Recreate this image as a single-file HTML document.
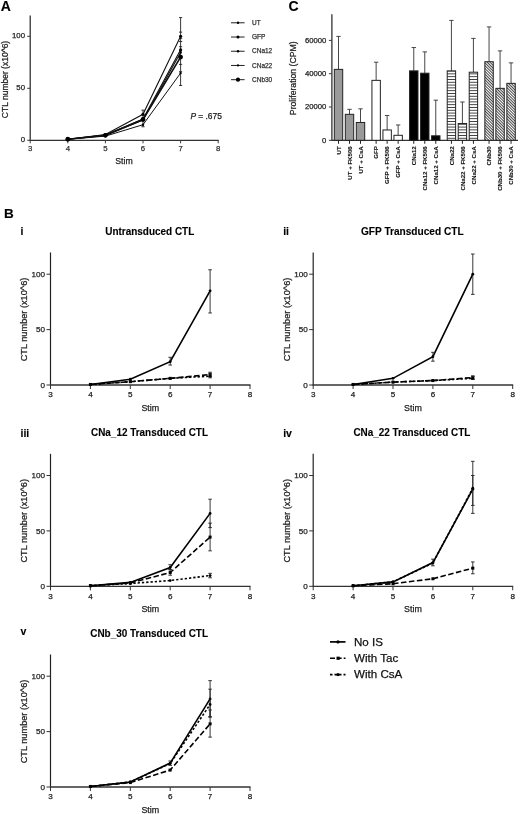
<!DOCTYPE html>
<html><head><meta charset="utf-8"><title>Figure</title>
<style>
html,body{margin:0;padding:0;background:#fff;}
body{width:520px;height:814px;overflow:hidden;}
svg{display:block;font-family:"Liberation Sans", sans-serif;filter:blur(0.35px);}
</style></head>
<body>
<svg width="520" height="814" viewBox="0 0 520 814">
<rect width="520" height="814" fill="#fff"/>
<text x="0.7" y="10.9" font-size="14" text-anchor="start" font-weight="bold" fill="#000" stroke="#000" stroke-width="0.12">A</text>
<text x="288.5" y="10.9" font-size="14" text-anchor="start" font-weight="bold" fill="#000" stroke="#000" stroke-width="0.12">C</text>
<text x="3.9" y="218.1" font-size="13.5" text-anchor="start" font-weight="bold" fill="#000" stroke="#000" stroke-width="0.12">B</text>
<line x1="30.2" y1="15.5" x2="30.2" y2="140.8" stroke="#222" stroke-width="1.2"/>
<line x1="29.7" y1="140.3" x2="218.7" y2="140.3" stroke="#333" stroke-width="1.2"/>
<line x1="27.2" y1="140.3" x2="30.2" y2="140.3" stroke="#3a3a3a" stroke-width="1"/>
<text x="25" y="142" font-size="7.8" text-anchor="end" fill="#222" stroke="#222" stroke-width="0.25">0</text>
<line x1="27.2" y1="88.3" x2="30.2" y2="88.3" stroke="#3a3a3a" stroke-width="1"/>
<text x="25" y="90" font-size="7.8" text-anchor="end" fill="#222" stroke="#222" stroke-width="0.25">50</text>
<line x1="27.2" y1="36.3" x2="30.2" y2="36.3" stroke="#3a3a3a" stroke-width="1"/>
<text x="25" y="38" font-size="7.8" text-anchor="end" fill="#222" stroke="#222" stroke-width="0.25">100</text>
<line x1="30.2" y1="140.3" x2="30.2" y2="143.3" stroke="#3a3a3a" stroke-width="1"/>
<text x="30.2" y="151.3" font-size="7.8" text-anchor="middle" fill="#333" stroke="#333" stroke-width="0.25">3</text>
<line x1="67.8" y1="140.3" x2="67.8" y2="143.3" stroke="#3a3a3a" stroke-width="1"/>
<text x="67.8" y="151.3" font-size="7.8" text-anchor="middle" fill="#333" stroke="#333" stroke-width="0.25">4</text>
<line x1="105.4" y1="140.3" x2="105.4" y2="143.3" stroke="#3a3a3a" stroke-width="1"/>
<text x="105.4" y="151.3" font-size="7.8" text-anchor="middle" fill="#333" stroke="#333" stroke-width="0.25">5</text>
<line x1="143" y1="140.3" x2="143" y2="143.3" stroke="#3a3a3a" stroke-width="1"/>
<text x="143" y="151.3" font-size="7.8" text-anchor="middle" fill="#333" stroke="#333" stroke-width="0.25">6</text>
<line x1="180.6" y1="140.3" x2="180.6" y2="143.3" stroke="#3a3a3a" stroke-width="1"/>
<text x="180.6" y="151.3" font-size="7.8" text-anchor="middle" fill="#333" stroke="#333" stroke-width="0.25">7</text>
<line x1="218.2" y1="140.3" x2="218.2" y2="143.3" stroke="#3a3a3a" stroke-width="1"/>
<text x="218.2" y="151.3" font-size="7.8" text-anchor="middle" fill="#333" stroke="#333" stroke-width="0.25">8</text>
<text x="124" y="164.2" font-size="8.7" text-anchor="middle" fill="#222" stroke="#222" stroke-width="0.25">Stim</text>
<text x="7.8" y="79.5" font-size="8.5" text-anchor="middle" fill="#222" stroke="#222" stroke-width="0.25" transform="rotate(-90 7.8 79.5)">CTL number (x10^6)</text>
<line x1="180.6" y1="17.58" x2="180.6" y2="85.49" stroke="#222" stroke-width="0.9"/>
<line x1="179" y1="17.58" x2="182.2" y2="17.58" stroke="#222" stroke-width="0.9"/>
<line x1="179" y1="32.14" x2="182.2" y2="32.14" stroke="#222" stroke-width="0.9"/>
<line x1="179" y1="38.38" x2="182.2" y2="38.38" stroke="#222" stroke-width="0.9"/>
<line x1="179" y1="41.5" x2="182.2" y2="41.5" stroke="#222" stroke-width="0.9"/>
<line x1="179" y1="46.7" x2="182.2" y2="46.7" stroke="#222" stroke-width="0.9"/>
<line x1="179" y1="64.38" x2="182.2" y2="64.38" stroke="#222" stroke-width="0.9"/>
<line x1="179" y1="71.66" x2="182.2" y2="71.66" stroke="#222" stroke-width="0.9"/>
<line x1="179" y1="85.49" x2="182.2" y2="85.49" stroke="#222" stroke-width="0.9"/>
<line x1="143" y1="110.14" x2="143" y2="126.78" stroke="#222" stroke-width="0.9"/>
<line x1="141.4" y1="110.14" x2="144.6" y2="110.14" stroke="#222" stroke-width="0.9"/>
<line x1="141.4" y1="126.78" x2="144.6" y2="126.78" stroke="#222" stroke-width="0.9"/>
<polyline points="67.80,139.26 105.40,134.48 143.00,114.30 180.60,36.30" fill="none" stroke="#111" stroke-width="1.1"/>
<circle cx="67.80" cy="139.26" r="1.6" fill="#000"/>
<circle cx="105.40" cy="134.48" r="1.6" fill="#000"/>
<circle cx="143.00" cy="114.30" r="1.6" fill="#000"/>
<circle cx="180.60" cy="36.30" r="1.6" fill="#000"/>
<polyline points="67.80,139.26 105.40,135.10 143.00,118.98 180.60,49.82" fill="none" stroke="#111" stroke-width="1.1"/>
<circle cx="67.80" cy="139.26" r="1.6" fill="#000"/>
<circle cx="105.40" cy="135.10" r="1.6" fill="#000"/>
<circle cx="143.00" cy="118.98" r="1.6" fill="#000"/>
<circle cx="180.60" cy="49.82" r="1.6" fill="#000"/>
<polyline points="67.80,139.26 105.40,135.52 143.00,120.02 180.60,52.42" fill="none" stroke="#111" stroke-width="1.1"/>
<circle cx="67.80" cy="139.26" r="1.3" fill="#000"/>
<circle cx="105.40" cy="135.52" r="1.3" fill="#000"/>
<circle cx="143.00" cy="120.02" r="1.3" fill="#000"/>
<circle cx="180.60" cy="52.42" r="1.3" fill="#000"/>
<polyline points="67.80,139.26 105.40,136.14 143.00,124.70 180.60,73.12" fill="none" stroke="#111" stroke-width="1.0"/>
<circle cx="67.80" cy="139.26" r="1.2" fill="#000"/>
<circle cx="105.40" cy="136.14" r="1.2" fill="#000"/>
<circle cx="143.00" cy="124.70" r="1.2" fill="#000"/>
<circle cx="180.60" cy="73.12" r="1.2" fill="#000"/>
<polyline points="67.80,139.26 105.40,135.31 143.00,119.50 180.60,57.10" fill="none" stroke="#111" stroke-width="1.6"/>
<circle cx="67.80" cy="139.26" r="2.4" fill="#000"/>
<circle cx="105.40" cy="135.31" r="2.4" fill="#000"/>
<circle cx="143.00" cy="119.50" r="2.4" fill="#000"/>
<circle cx="180.60" cy="57.10" r="2.4" fill="#000"/>
<text x="190.4" y="118.5" font-size="8.4" text-anchor="start" fill="#222" stroke="#222" stroke-width="0.25"><tspan font-style="italic">P</tspan> = .675</text>
<line x1="231" y1="22.8" x2="244.6" y2="22.8" stroke="#222" stroke-width="1.0"/>
<circle cx="238" cy="22.80" r="1.2" fill="#000"/>
<text x="252" y="25" font-size="6.5" text-anchor="start" fill="#333" stroke="#333" stroke-width="0.25">UT</text>
<line x1="231" y1="37.02" x2="244.6" y2="37.02" stroke="#222" stroke-width="1.0"/>
<circle cx="238" cy="37.02" r="1.5" fill="#000"/>
<text x="252" y="39.22" font-size="6.5" text-anchor="start" fill="#333" stroke="#333" stroke-width="0.25">GFP</text>
<line x1="231" y1="51.24" x2="244.6" y2="51.24" stroke="#222" stroke-width="1.0"/>
<circle cx="238" cy="51.24" r="1.2" fill="#000"/>
<text x="252" y="53.44" font-size="6.5" text-anchor="start" fill="#333" stroke="#333" stroke-width="0.25">CNa12</text>
<line x1="231" y1="65.46" x2="244.6" y2="65.46" stroke="#222" stroke-width="1.0"/>
<circle cx="238" cy="65.46" r="1.1" fill="#000"/>
<text x="252" y="67.66" font-size="6.5" text-anchor="start" fill="#333" stroke="#333" stroke-width="0.25">CNa22</text>
<line x1="231" y1="79.68" x2="244.6" y2="79.68" stroke="#222" stroke-width="1.0"/>
<circle cx="238" cy="79.68" r="2.1" fill="#000"/>
<text x="252" y="81.88" font-size="6.5" text-anchor="start" fill="#333" stroke="#333" stroke-width="0.25">CNb30</text>
<line x1="331.9" y1="14.3" x2="331.9" y2="140.8" stroke="#222" stroke-width="1.2"/>
<line x1="331.4" y1="140.3" x2="518" y2="140.3" stroke="#333" stroke-width="1.2"/>
<line x1="328.9" y1="140.3" x2="331.9" y2="140.3" stroke="#3a3a3a" stroke-width="1"/>
<text x="326.3" y="142.5" font-size="7.7" text-anchor="end" fill="#222" stroke="#222" stroke-width="0.25">0</text>
<line x1="328.9" y1="107" x2="331.9" y2="107" stroke="#3a3a3a" stroke-width="1"/>
<text x="326.3" y="109.2" font-size="7.7" text-anchor="end" fill="#222" stroke="#222" stroke-width="0.25">20000</text>
<line x1="328.9" y1="73.7" x2="331.9" y2="73.7" stroke="#3a3a3a" stroke-width="1"/>
<text x="326.3" y="75.9" font-size="7.7" text-anchor="end" fill="#222" stroke="#222" stroke-width="0.25">40000</text>
<line x1="328.9" y1="40.4" x2="331.9" y2="40.4" stroke="#3a3a3a" stroke-width="1"/>
<text x="326.3" y="42.6" font-size="7.7" text-anchor="end" fill="#222" stroke="#222" stroke-width="0.25">60000</text>
<text x="296.2" y="78.2" font-size="8.7" text-anchor="middle" fill="#222" stroke="#222" stroke-width="0.25" transform="rotate(-90 296.2 78.2)">Proliferation (CPM)</text>
<defs>
<pattern id="hs" patternUnits="userSpaceOnUse" width="10" height="2.8" y="0.6">
<rect width="10" height="2.8" fill="#fff"/><rect y="0" width="10" height="0.9" fill="#333"/></pattern>
<pattern id="dg" patternUnits="userSpaceOnUse" width="2.0" height="3" patternTransform="rotate(-45)">
<rect width="2.0" height="3" fill="#fff"/><rect width="0.9" height="3" fill="#333"/></pattern>
</defs>
<line x1="338.5" y1="36.4" x2="338.5" y2="69.37" stroke="#333" stroke-width="0.9"/>
<line x1="336.3" y1="36.4" x2="340.7" y2="36.4" stroke="#333" stroke-width="0.9"/>
<rect x="334.30" y="69.37" width="8.4" height="70.93" fill="#9a9a9a" stroke="#222" stroke-width="1"/>
<line x1="338.5" y1="140.3" x2="338.5" y2="143.8" stroke="#222" stroke-width="1"/>
<text x="340.6" y="146.3" font-size="6.1" text-anchor="end" font-weight="bold" fill="#111" stroke="#111" stroke-width="0.12" transform="rotate(-90 340.6 146.3)">UT</text>
<line x1="349.5" y1="109.33" x2="349.5" y2="114.33" stroke="#333" stroke-width="0.9"/>
<line x1="347.3" y1="109.33" x2="351.7" y2="109.33" stroke="#333" stroke-width="0.9"/>
<rect x="345.30" y="114.33" width="8.4" height="25.97" fill="#9a9a9a" stroke="#222" stroke-width="1"/>
<line x1="349.5" y1="140.3" x2="349.5" y2="143.8" stroke="#222" stroke-width="1"/>
<text x="351.6" y="146.3" font-size="6.1" text-anchor="end" font-weight="bold" fill="#111" stroke="#111" stroke-width="0.12" transform="rotate(-90 351.6 146.3)">UT + FK506</text>
<line x1="360.5" y1="108.83" x2="360.5" y2="122.48" stroke="#333" stroke-width="0.9"/>
<line x1="358.3" y1="108.83" x2="362.7" y2="108.83" stroke="#333" stroke-width="0.9"/>
<rect x="356.30" y="122.48" width="8.4" height="17.82" fill="#9a9a9a" stroke="#222" stroke-width="1"/>
<line x1="360.5" y1="140.3" x2="360.5" y2="143.8" stroke="#222" stroke-width="1"/>
<text x="362.6" y="146.3" font-size="6.1" text-anchor="end" font-weight="bold" fill="#111" stroke="#111" stroke-width="0.12" transform="rotate(-90 362.6 146.3)">UT + CsA</text>
<line x1="376.14" y1="62.21" x2="376.14" y2="80.36" stroke="#333" stroke-width="0.9"/>
<line x1="373.94" y1="62.21" x2="378.34" y2="62.21" stroke="#333" stroke-width="0.9"/>
<rect x="371.94" y="80.36" width="8.4" height="59.94" fill="#fff" stroke="#222" stroke-width="1"/>
<line x1="376.14" y1="140.3" x2="376.14" y2="143.8" stroke="#222" stroke-width="1"/>
<text x="378.24" y="146.3" font-size="6.1" text-anchor="end" font-weight="bold" fill="#111" stroke="#111" stroke-width="0.12" transform="rotate(-90 378.24 146.3)">GFP</text>
<line x1="387.14" y1="115.49" x2="387.14" y2="129.98" stroke="#333" stroke-width="0.9"/>
<line x1="384.94" y1="115.49" x2="389.34" y2="115.49" stroke="#333" stroke-width="0.9"/>
<rect x="382.94" y="129.98" width="8.4" height="10.32" fill="#fff" stroke="#222" stroke-width="1"/>
<line x1="387.14" y1="140.3" x2="387.14" y2="143.8" stroke="#222" stroke-width="1"/>
<text x="389.24" y="146.3" font-size="6.1" text-anchor="end" font-weight="bold" fill="#111" stroke="#111" stroke-width="0.12" transform="rotate(-90 389.24 146.3)">GFP + FK506</text>
<line x1="398.14" y1="124.98" x2="398.14" y2="135.31" stroke="#333" stroke-width="0.9"/>
<line x1="395.94" y1="124.98" x2="400.34" y2="124.98" stroke="#333" stroke-width="0.9"/>
<rect x="393.94" y="135.31" width="8.4" height="5.00" fill="#fff" stroke="#222" stroke-width="1"/>
<line x1="398.14" y1="140.3" x2="398.14" y2="143.8" stroke="#222" stroke-width="1"/>
<text x="400.24" y="146.3" font-size="6.1" text-anchor="end" font-weight="bold" fill="#111" stroke="#111" stroke-width="0.12" transform="rotate(-90 400.24 146.3)">GFP + CsA</text>
<line x1="413.78" y1="47.56" x2="413.78" y2="70.87" stroke="#333" stroke-width="0.9"/>
<line x1="411.58" y1="47.56" x2="415.98" y2="47.56" stroke="#333" stroke-width="0.9"/>
<rect x="409.58" y="70.87" width="8.4" height="69.43" fill="#000" stroke="#222" stroke-width="1"/>
<line x1="413.78" y1="140.3" x2="413.78" y2="143.8" stroke="#222" stroke-width="1"/>
<text x="415.88" y="146.3" font-size="6.1" text-anchor="end" font-weight="bold" fill="#111" stroke="#111" stroke-width="0.12" transform="rotate(-90 415.88 146.3)">CNa12</text>
<line x1="424.78" y1="51.89" x2="424.78" y2="73.2" stroke="#333" stroke-width="0.9"/>
<line x1="422.58" y1="51.89" x2="426.98" y2="51.89" stroke="#333" stroke-width="0.9"/>
<rect x="420.58" y="73.20" width="8.4" height="67.10" fill="#000" stroke="#222" stroke-width="1"/>
<line x1="424.78" y1="140.3" x2="424.78" y2="143.8" stroke="#222" stroke-width="1"/>
<text x="426.88" y="146.3" font-size="6.1" text-anchor="end" font-weight="bold" fill="#111" stroke="#111" stroke-width="0.12" transform="rotate(-90 426.88 146.3)">CNa12 + FK506</text>
<line x1="435.78" y1="100.17" x2="435.78" y2="135.8" stroke="#333" stroke-width="0.9"/>
<line x1="433.58" y1="100.17" x2="437.98" y2="100.17" stroke="#333" stroke-width="0.9"/>
<rect x="431.58" y="135.80" width="8.4" height="4.50" fill="#000" stroke="#222" stroke-width="1"/>
<line x1="435.78" y1="140.3" x2="435.78" y2="143.8" stroke="#222" stroke-width="1"/>
<text x="437.88" y="146.3" font-size="6.1" text-anchor="end" font-weight="bold" fill="#111" stroke="#111" stroke-width="0.12" transform="rotate(-90 437.88 146.3)">CNa12 + CsA</text>
<line x1="451.42" y1="20.42" x2="451.42" y2="70.87" stroke="#333" stroke-width="0.9"/>
<line x1="449.22" y1="20.42" x2="453.62" y2="20.42" stroke="#333" stroke-width="0.9"/>
<rect x="447.22" y="70.87" width="8.4" height="69.43" fill="url(#hs)" stroke="#222" stroke-width="1"/>
<line x1="451.42" y1="140.3" x2="451.42" y2="143.8" stroke="#222" stroke-width="1"/>
<text x="453.52" y="146.3" font-size="6.1" text-anchor="end" font-weight="bold" fill="#111" stroke="#111" stroke-width="0.12" transform="rotate(-90 453.52 146.3)">CNa22</text>
<line x1="462.42" y1="102.01" x2="462.42" y2="123.48" stroke="#333" stroke-width="0.9"/>
<line x1="460.22" y1="102.01" x2="464.62" y2="102.01" stroke="#333" stroke-width="0.9"/>
<rect x="458.22" y="123.48" width="8.4" height="16.82" fill="url(#hs)" stroke="#222" stroke-width="1"/>
<line x1="462.42" y1="140.3" x2="462.42" y2="143.8" stroke="#222" stroke-width="1"/>
<text x="464.52" y="146.3" font-size="6.1" text-anchor="end" font-weight="bold" fill="#111" stroke="#111" stroke-width="0.12" transform="rotate(-90 464.52 146.3)">CNa22 + FK506</text>
<line x1="473.42" y1="38.4" x2="473.42" y2="72.2" stroke="#333" stroke-width="0.9"/>
<line x1="471.22" y1="38.4" x2="475.62" y2="38.4" stroke="#333" stroke-width="0.9"/>
<rect x="469.22" y="72.20" width="8.4" height="68.10" fill="url(#hs)" stroke="#222" stroke-width="1"/>
<line x1="473.42" y1="140.3" x2="473.42" y2="143.8" stroke="#222" stroke-width="1"/>
<text x="475.52" y="146.3" font-size="6.1" text-anchor="end" font-weight="bold" fill="#111" stroke="#111" stroke-width="0.12" transform="rotate(-90 475.52 146.3)">CNa22 + CsA</text>
<line x1="489.06" y1="26.91" x2="489.06" y2="61.71" stroke="#333" stroke-width="0.9"/>
<line x1="486.86" y1="26.91" x2="491.26" y2="26.91" stroke="#333" stroke-width="0.9"/>
<rect x="484.86" y="61.71" width="8.4" height="78.59" fill="url(#dg)" stroke="#222" stroke-width="1"/>
<line x1="489.06" y1="140.3" x2="489.06" y2="143.8" stroke="#222" stroke-width="1"/>
<text x="491.16" y="146.3" font-size="6.1" text-anchor="end" font-weight="bold" fill="#111" stroke="#111" stroke-width="0.12" transform="rotate(-90 491.16 146.3)">CNb30</text>
<line x1="500.06" y1="50.89" x2="500.06" y2="88.35" stroke="#333" stroke-width="0.9"/>
<line x1="497.86" y1="50.89" x2="502.26" y2="50.89" stroke="#333" stroke-width="0.9"/>
<rect x="495.86" y="88.35" width="8.4" height="51.95" fill="url(#dg)" stroke="#222" stroke-width="1"/>
<line x1="500.06" y1="140.3" x2="500.06" y2="143.8" stroke="#222" stroke-width="1"/>
<text x="502.16" y="146.3" font-size="6.1" text-anchor="end" font-weight="bold" fill="#111" stroke="#111" stroke-width="0.12" transform="rotate(-90 502.16 146.3)">CNb30 + FK506</text>
<line x1="511.06" y1="62.88" x2="511.06" y2="83.36" stroke="#333" stroke-width="0.9"/>
<line x1="508.86" y1="62.88" x2="513.26" y2="62.88" stroke="#333" stroke-width="0.9"/>
<rect x="506.86" y="83.36" width="8.4" height="56.94" fill="url(#dg)" stroke="#222" stroke-width="1"/>
<line x1="511.06" y1="140.3" x2="511.06" y2="143.8" stroke="#222" stroke-width="1"/>
<text x="513.16" y="146.3" font-size="6.1" text-anchor="end" font-weight="bold" fill="#111" stroke="#111" stroke-width="0.12" transform="rotate(-90 513.16 146.3)">CNb30 + CsA</text>
<line x1="50.5" y1="252.5" x2="50.5" y2="385.5" stroke="#222" stroke-width="1.2"/>
<line x1="50" y1="385" x2="250.5" y2="385" stroke="#333" stroke-width="1.3"/>
<line x1="46.5" y1="385" x2="50.5" y2="385" stroke="#333" stroke-width="1"/>
<text x="45.1" y="387.8" font-size="8.1" text-anchor="end" fill="#222" stroke="#222" stroke-width="0.25">0</text>
<line x1="46.5" y1="329.6" x2="50.5" y2="329.6" stroke="#333" stroke-width="1"/>
<text x="45.1" y="332.4" font-size="8.1" text-anchor="end" fill="#222" stroke="#222" stroke-width="0.25">50</text>
<line x1="46.5" y1="274.2" x2="50.5" y2="274.2" stroke="#333" stroke-width="1"/>
<text x="45.1" y="277" font-size="8.1" text-anchor="end" fill="#222" stroke="#222" stroke-width="0.25">100</text>
<line x1="50.5" y1="385" x2="50.5" y2="389" stroke="#333" stroke-width="1"/>
<text x="50.5" y="397.2" font-size="8.1" text-anchor="middle" fill="#222" stroke="#222" stroke-width="0.25">3</text>
<line x1="90.4" y1="385" x2="90.4" y2="389" stroke="#333" stroke-width="1"/>
<text x="90.4" y="397.2" font-size="8.1" text-anchor="middle" fill="#222" stroke="#222" stroke-width="0.25">4</text>
<line x1="130.3" y1="385" x2="130.3" y2="389" stroke="#333" stroke-width="1"/>
<text x="130.3" y="397.2" font-size="8.1" text-anchor="middle" fill="#222" stroke="#222" stroke-width="0.25">5</text>
<line x1="170.2" y1="385" x2="170.2" y2="389" stroke="#333" stroke-width="1"/>
<text x="170.2" y="397.2" font-size="8.1" text-anchor="middle" fill="#222" stroke="#222" stroke-width="0.25">6</text>
<line x1="210.1" y1="385" x2="210.1" y2="389" stroke="#333" stroke-width="1"/>
<text x="210.1" y="397.2" font-size="8.1" text-anchor="middle" fill="#222" stroke="#222" stroke-width="0.25">7</text>
<line x1="250" y1="385" x2="250" y2="389" stroke="#333" stroke-width="1"/>
<text x="250" y="397.2" font-size="8.1" text-anchor="middle" fill="#222" stroke="#222" stroke-width="0.25">8</text>
<text x="150.25" y="411" font-size="8.9" text-anchor="middle" fill="#222" stroke="#222" stroke-width="0.25">Stim</text>
<text x="27.2" y="319.5" font-size="9.2" text-anchor="middle" fill="#222" stroke="#222" stroke-width="0.25" transform="rotate(-90 27.2 319.5)">CTL number (x10^6)</text>
<text x="20.5" y="235" font-size="10.5" text-anchor="start" font-weight="bold" fill="#000" stroke="#000" stroke-width="0.12">i</text>
<text x="149.75" y="234.7" font-size="10.2" text-anchor="middle" font-weight="bold" fill="#000" stroke="#000" stroke-width="0.12" textLength="89.0" lengthAdjust="spacingAndGlyphs">Untransduced CTL</text>
<polyline points="90.40,384.45 130.30,379.24 170.20,361.73 210.10,290.82" fill="none" stroke="#000" stroke-width="1.6"/>
<line x1="170.2" y1="357.3" x2="170.2" y2="365.06" stroke="#222" stroke-width="0.9"/>
<line x1="168.4" y1="357.3" x2="172" y2="357.3" stroke="#222" stroke-width="0.9"/>
<line x1="168.4" y1="365.06" x2="172" y2="365.06" stroke="#222" stroke-width="0.9"/>
<line x1="210.1" y1="269.77" x2="210.1" y2="312.98" stroke="#222" stroke-width="0.9"/>
<line x1="208.3" y1="269.77" x2="211.9" y2="269.77" stroke="#222" stroke-width="0.9"/>
<line x1="208.3" y1="312.98" x2="211.9" y2="312.98" stroke="#222" stroke-width="0.9"/>
<circle cx="90.40" cy="384.45" r="1.4" fill="#000"/>
<circle cx="130.30" cy="379.24" r="1.4" fill="#000"/>
<circle cx="170.20" cy="361.73" r="1.4" fill="#000"/>
<circle cx="210.10" cy="290.82" r="1.4" fill="#000"/>
<polyline points="90.40,384.45 130.30,381.68 170.20,378.35 210.10,374.58" fill="none" stroke="#000" stroke-width="1.6" stroke-dasharray="5.5 2.5"/>
<line x1="210.1" y1="372.26" x2="210.1" y2="376.69" stroke="#222" stroke-width="0.9"/>
<line x1="208.3" y1="372.26" x2="211.9" y2="372.26" stroke="#222" stroke-width="0.9"/>
<line x1="208.3" y1="376.69" x2="211.9" y2="376.69" stroke="#222" stroke-width="0.9"/>
<rect x="88.90" y="382.95" width="3" height="3" fill="#000"/>
<rect x="128.80" y="380.18" width="3" height="3" fill="#000"/>
<rect x="168.70" y="376.85" width="3" height="3" fill="#000"/>
<rect x="208.60" y="373.08" width="3" height="3" fill="#000"/>
<polyline points="90.40,384.45 130.30,381.68 170.20,378.35 210.10,376.14" fill="none" stroke="#000" stroke-width="1.6" stroke-dasharray="2.3 2"/>
<line x1="210.1" y1="373.92" x2="210.1" y2="377.8" stroke="#222" stroke-width="0.9"/>
<line x1="208.3" y1="373.92" x2="211.9" y2="373.92" stroke="#222" stroke-width="0.9"/>
<line x1="208.3" y1="377.8" x2="211.9" y2="377.8" stroke="#222" stroke-width="0.9"/>
<circle cx="90.40" cy="384.45" r="1.4" fill="#000"/>
<circle cx="130.30" cy="381.68" r="1.4" fill="#000"/>
<circle cx="170.20" cy="378.35" r="1.4" fill="#000"/>
<circle cx="210.10" cy="376.14" r="1.4" fill="#000"/>
<line x1="313.2" y1="252.5" x2="313.2" y2="385.5" stroke="#222" stroke-width="1.2"/>
<line x1="312.7" y1="385" x2="513.2" y2="385" stroke="#333" stroke-width="1.3"/>
<line x1="309.2" y1="385" x2="313.2" y2="385" stroke="#333" stroke-width="1"/>
<text x="307.8" y="387.8" font-size="8.1" text-anchor="end" fill="#222" stroke="#222" stroke-width="0.25">0</text>
<line x1="309.2" y1="329.6" x2="313.2" y2="329.6" stroke="#333" stroke-width="1"/>
<text x="307.8" y="332.4" font-size="8.1" text-anchor="end" fill="#222" stroke="#222" stroke-width="0.25">50</text>
<line x1="309.2" y1="274.2" x2="313.2" y2="274.2" stroke="#333" stroke-width="1"/>
<text x="307.8" y="277" font-size="8.1" text-anchor="end" fill="#222" stroke="#222" stroke-width="0.25">100</text>
<line x1="313.2" y1="385" x2="313.2" y2="389" stroke="#333" stroke-width="1"/>
<text x="313.2" y="397.2" font-size="8.1" text-anchor="middle" fill="#222" stroke="#222" stroke-width="0.25">3</text>
<line x1="353.1" y1="385" x2="353.1" y2="389" stroke="#333" stroke-width="1"/>
<text x="353.1" y="397.2" font-size="8.1" text-anchor="middle" fill="#222" stroke="#222" stroke-width="0.25">4</text>
<line x1="393" y1="385" x2="393" y2="389" stroke="#333" stroke-width="1"/>
<text x="393" y="397.2" font-size="8.1" text-anchor="middle" fill="#222" stroke="#222" stroke-width="0.25">5</text>
<line x1="432.9" y1="385" x2="432.9" y2="389" stroke="#333" stroke-width="1"/>
<text x="432.9" y="397.2" font-size="8.1" text-anchor="middle" fill="#222" stroke="#222" stroke-width="0.25">6</text>
<line x1="472.8" y1="385" x2="472.8" y2="389" stroke="#333" stroke-width="1"/>
<text x="472.8" y="397.2" font-size="8.1" text-anchor="middle" fill="#222" stroke="#222" stroke-width="0.25">7</text>
<line x1="512.7" y1="385" x2="512.7" y2="389" stroke="#333" stroke-width="1"/>
<text x="512.7" y="397.2" font-size="8.1" text-anchor="middle" fill="#222" stroke="#222" stroke-width="0.25">8</text>
<text x="412.95" y="411" font-size="8.9" text-anchor="middle" fill="#222" stroke="#222" stroke-width="0.25">Stim</text>
<text x="289.9" y="319.5" font-size="9.2" text-anchor="middle" fill="#222" stroke="#222" stroke-width="0.25" transform="rotate(-90 289.9 319.5)">CTL number (x10^6)</text>
<text x="283.2" y="235" font-size="10.5" text-anchor="start" font-weight="bold" fill="#000" stroke="#000" stroke-width="0.12">ii</text>
<text x="412.3" y="234.7" font-size="10.2" text-anchor="middle" font-weight="bold" fill="#000" stroke="#000" stroke-width="0.12" textLength="102.6" lengthAdjust="spacingAndGlyphs">GFP Transduced CTL</text>
<polyline points="353.10,384.45 393.00,378.35 432.90,356.64 472.80,274.20" fill="none" stroke="#000" stroke-width="1.6"/>
<line x1="432.9" y1="352.31" x2="432.9" y2="361.18" stroke="#222" stroke-width="0.9"/>
<line x1="431.1" y1="352.31" x2="434.7" y2="352.31" stroke="#222" stroke-width="0.9"/>
<line x1="431.1" y1="361.18" x2="434.7" y2="361.18" stroke="#222" stroke-width="0.9"/>
<line x1="472.8" y1="254.03" x2="472.8" y2="294.37" stroke="#222" stroke-width="0.9"/>
<line x1="471" y1="254.03" x2="474.6" y2="254.03" stroke="#222" stroke-width="0.9"/>
<line x1="471" y1="294.37" x2="474.6" y2="294.37" stroke="#222" stroke-width="0.9"/>
<circle cx="353.10" cy="384.45" r="1.4" fill="#000"/>
<circle cx="393.00" cy="378.35" r="1.4" fill="#000"/>
<circle cx="432.90" cy="356.64" r="1.4" fill="#000"/>
<circle cx="472.80" cy="274.20" r="1.4" fill="#000"/>
<polyline points="353.10,384.45 393.00,382.12 432.90,380.57 472.80,377.58" fill="none" stroke="#000" stroke-width="1.6" stroke-dasharray="5.5 2.5"/>
<line x1="472.8" y1="375.8" x2="472.8" y2="379.46" stroke="#222" stroke-width="0.9"/>
<line x1="471" y1="375.8" x2="474.6" y2="375.8" stroke="#222" stroke-width="0.9"/>
<line x1="471" y1="379.46" x2="474.6" y2="379.46" stroke="#222" stroke-width="0.9"/>
<rect x="351.60" y="382.95" width="3" height="3" fill="#000"/>
<rect x="391.50" y="380.62" width="3" height="3" fill="#000"/>
<rect x="431.40" y="379.07" width="3" height="3" fill="#000"/>
<rect x="471.30" y="376.08" width="3" height="3" fill="#000"/>
<polyline points="353.10,384.45 393.00,382.12 432.90,380.57 472.80,378.35" fill="none" stroke="#000" stroke-width="1.6" stroke-dasharray="2.3 2"/>
<line x1="472.8" y1="376.69" x2="472.8" y2="379.46" stroke="#222" stroke-width="0.9"/>
<line x1="471" y1="376.69" x2="474.6" y2="376.69" stroke="#222" stroke-width="0.9"/>
<line x1="471" y1="379.46" x2="474.6" y2="379.46" stroke="#222" stroke-width="0.9"/>
<circle cx="353.10" cy="384.45" r="1.4" fill="#000"/>
<circle cx="393.00" cy="382.12" r="1.4" fill="#000"/>
<circle cx="432.90" cy="380.57" r="1.4" fill="#000"/>
<circle cx="472.80" cy="378.35" r="1.4" fill="#000"/>
<line x1="50.5" y1="453.8" x2="50.5" y2="586.8" stroke="#222" stroke-width="1.2"/>
<line x1="50" y1="586.3" x2="250.5" y2="586.3" stroke="#333" stroke-width="1.3"/>
<line x1="46.5" y1="586.3" x2="50.5" y2="586.3" stroke="#333" stroke-width="1"/>
<text x="45.1" y="589.1" font-size="8.1" text-anchor="end" fill="#222" stroke="#222" stroke-width="0.25">0</text>
<line x1="46.5" y1="530.9" x2="50.5" y2="530.9" stroke="#333" stroke-width="1"/>
<text x="45.1" y="533.7" font-size="8.1" text-anchor="end" fill="#222" stroke="#222" stroke-width="0.25">50</text>
<line x1="46.5" y1="475.5" x2="50.5" y2="475.5" stroke="#333" stroke-width="1"/>
<text x="45.1" y="478.3" font-size="8.1" text-anchor="end" fill="#222" stroke="#222" stroke-width="0.25">100</text>
<line x1="50.5" y1="586.3" x2="50.5" y2="590.3" stroke="#333" stroke-width="1"/>
<text x="50.5" y="598.5" font-size="8.1" text-anchor="middle" fill="#222" stroke="#222" stroke-width="0.25">3</text>
<line x1="90.4" y1="586.3" x2="90.4" y2="590.3" stroke="#333" stroke-width="1"/>
<text x="90.4" y="598.5" font-size="8.1" text-anchor="middle" fill="#222" stroke="#222" stroke-width="0.25">4</text>
<line x1="130.3" y1="586.3" x2="130.3" y2="590.3" stroke="#333" stroke-width="1"/>
<text x="130.3" y="598.5" font-size="8.1" text-anchor="middle" fill="#222" stroke="#222" stroke-width="0.25">5</text>
<line x1="170.2" y1="586.3" x2="170.2" y2="590.3" stroke="#333" stroke-width="1"/>
<text x="170.2" y="598.5" font-size="8.1" text-anchor="middle" fill="#222" stroke="#222" stroke-width="0.25">6</text>
<line x1="210.1" y1="586.3" x2="210.1" y2="590.3" stroke="#333" stroke-width="1"/>
<text x="210.1" y="598.5" font-size="8.1" text-anchor="middle" fill="#222" stroke="#222" stroke-width="0.25">7</text>
<line x1="250" y1="586.3" x2="250" y2="590.3" stroke="#333" stroke-width="1"/>
<text x="250" y="598.5" font-size="8.1" text-anchor="middle" fill="#222" stroke="#222" stroke-width="0.25">8</text>
<text x="150.25" y="612.3" font-size="8.9" text-anchor="middle" fill="#222" stroke="#222" stroke-width="0.25">Stim</text>
<text x="27.2" y="520.8" font-size="9.2" text-anchor="middle" fill="#222" stroke="#222" stroke-width="0.25" transform="rotate(-90 27.2 520.8)">CTL number (x10^6)</text>
<text x="20.5" y="437" font-size="10.5" text-anchor="start" font-weight="bold" fill="#000" stroke="#000" stroke-width="0.12">iii</text>
<text x="149.5" y="436.4" font-size="10.2" text-anchor="middle" font-weight="bold" fill="#000" stroke="#000" stroke-width="0.12" textLength="117.0" lengthAdjust="spacingAndGlyphs">CNa_12 Transduced CTL</text>
<polyline points="90.40,585.75 130.30,582.42 170.20,567.46 210.10,513.39" fill="none" stroke="#000" stroke-width="1.6"/>
<line x1="170.2" y1="564.69" x2="170.2" y2="569.68" stroke="#222" stroke-width="0.9"/>
<line x1="168.4" y1="564.69" x2="172" y2="564.69" stroke="#222" stroke-width="0.9"/>
<line x1="168.4" y1="569.68" x2="172" y2="569.68" stroke="#222" stroke-width="0.9"/>
<line x1="210.1" y1="499.21" x2="210.1" y2="527.58" stroke="#222" stroke-width="0.9"/>
<line x1="208.3" y1="499.21" x2="211.9" y2="499.21" stroke="#222" stroke-width="0.9"/>
<line x1="208.3" y1="527.58" x2="211.9" y2="527.58" stroke="#222" stroke-width="0.9"/>
<circle cx="90.40" cy="585.75" r="1.4" fill="#000"/>
<circle cx="130.30" cy="582.42" r="1.4" fill="#000"/>
<circle cx="170.20" cy="567.46" r="1.4" fill="#000"/>
<circle cx="210.10" cy="513.39" r="1.4" fill="#000"/>
<polyline points="90.40,585.75 130.30,582.98 170.20,572.56 210.10,537.10" fill="none" stroke="#000" stroke-width="1.6" stroke-dasharray="5.5 2.5"/>
<line x1="170.2" y1="569.68" x2="170.2" y2="575.22" stroke="#222" stroke-width="0.9"/>
<line x1="168.4" y1="569.68" x2="172" y2="569.68" stroke="#222" stroke-width="0.9"/>
<line x1="168.4" y1="575.22" x2="172" y2="575.22" stroke="#222" stroke-width="0.9"/>
<line x1="210.1" y1="523.14" x2="210.1" y2="550.84" stroke="#222" stroke-width="0.9"/>
<line x1="208.3" y1="523.14" x2="211.9" y2="523.14" stroke="#222" stroke-width="0.9"/>
<line x1="208.3" y1="550.84" x2="211.9" y2="550.84" stroke="#222" stroke-width="0.9"/>
<rect x="88.90" y="584.25" width="3" height="3" fill="#000"/>
<rect x="128.80" y="581.48" width="3" height="3" fill="#000"/>
<rect x="168.70" y="571.06" width="3" height="3" fill="#000"/>
<rect x="208.60" y="535.60" width="3" height="3" fill="#000"/>
<polyline points="90.40,585.75 130.30,583.53 170.20,580.54 210.10,575.55" fill="none" stroke="#000" stroke-width="1.6" stroke-dasharray="2.3 2"/>
<line x1="210.1" y1="573.34" x2="210.1" y2="577.77" stroke="#222" stroke-width="0.9"/>
<line x1="208.3" y1="573.34" x2="211.9" y2="573.34" stroke="#222" stroke-width="0.9"/>
<line x1="208.3" y1="577.77" x2="211.9" y2="577.77" stroke="#222" stroke-width="0.9"/>
<circle cx="90.40" cy="585.75" r="1.4" fill="#000"/>
<circle cx="130.30" cy="583.53" r="1.4" fill="#000"/>
<circle cx="170.20" cy="580.54" r="1.4" fill="#000"/>
<circle cx="210.10" cy="575.55" r="1.4" fill="#000"/>
<line x1="313.2" y1="453.8" x2="313.2" y2="586.8" stroke="#222" stroke-width="1.2"/>
<line x1="312.7" y1="586.3" x2="513.2" y2="586.3" stroke="#333" stroke-width="1.3"/>
<line x1="309.2" y1="586.3" x2="313.2" y2="586.3" stroke="#333" stroke-width="1"/>
<text x="307.8" y="589.1" font-size="8.1" text-anchor="end" fill="#222" stroke="#222" stroke-width="0.25">0</text>
<line x1="309.2" y1="530.9" x2="313.2" y2="530.9" stroke="#333" stroke-width="1"/>
<text x="307.8" y="533.7" font-size="8.1" text-anchor="end" fill="#222" stroke="#222" stroke-width="0.25">50</text>
<line x1="309.2" y1="475.5" x2="313.2" y2="475.5" stroke="#333" stroke-width="1"/>
<text x="307.8" y="478.3" font-size="8.1" text-anchor="end" fill="#222" stroke="#222" stroke-width="0.25">100</text>
<line x1="313.2" y1="586.3" x2="313.2" y2="590.3" stroke="#333" stroke-width="1"/>
<text x="313.2" y="598.5" font-size="8.1" text-anchor="middle" fill="#222" stroke="#222" stroke-width="0.25">3</text>
<line x1="353.1" y1="586.3" x2="353.1" y2="590.3" stroke="#333" stroke-width="1"/>
<text x="353.1" y="598.5" font-size="8.1" text-anchor="middle" fill="#222" stroke="#222" stroke-width="0.25">4</text>
<line x1="393" y1="586.3" x2="393" y2="590.3" stroke="#333" stroke-width="1"/>
<text x="393" y="598.5" font-size="8.1" text-anchor="middle" fill="#222" stroke="#222" stroke-width="0.25">5</text>
<line x1="432.9" y1="586.3" x2="432.9" y2="590.3" stroke="#333" stroke-width="1"/>
<text x="432.9" y="598.5" font-size="8.1" text-anchor="middle" fill="#222" stroke="#222" stroke-width="0.25">6</text>
<line x1="472.8" y1="586.3" x2="472.8" y2="590.3" stroke="#333" stroke-width="1"/>
<text x="472.8" y="598.5" font-size="8.1" text-anchor="middle" fill="#222" stroke="#222" stroke-width="0.25">7</text>
<line x1="512.7" y1="586.3" x2="512.7" y2="590.3" stroke="#333" stroke-width="1"/>
<text x="512.7" y="598.5" font-size="8.1" text-anchor="middle" fill="#222" stroke="#222" stroke-width="0.25">8</text>
<text x="412.95" y="612.3" font-size="8.9" text-anchor="middle" fill="#222" stroke="#222" stroke-width="0.25">Stim</text>
<text x="289.9" y="520.8" font-size="9.2" text-anchor="middle" fill="#222" stroke="#222" stroke-width="0.25" transform="rotate(-90 289.9 520.8)">CTL number (x10^6)</text>
<text x="283.2" y="436.6" font-size="10.5" text-anchor="start" font-weight="bold" fill="#000" stroke="#000" stroke-width="0.12">iv</text>
<text x="411.9" y="436.4" font-size="10.2" text-anchor="middle" font-weight="bold" fill="#000" stroke="#000" stroke-width="0.12" textLength="117.0" lengthAdjust="spacingAndGlyphs">CNa_22 Transduced CTL</text>
<polyline points="353.10,585.75 393.00,581.87 432.90,562.59 472.80,489.24" fill="none" stroke="#000" stroke-width="1.6"/>
<line x1="432.9" y1="559.15" x2="432.9" y2="565.8" stroke="#222" stroke-width="0.9"/>
<line x1="431.1" y1="559.15" x2="434.7" y2="559.15" stroke="#222" stroke-width="0.9"/>
<line x1="431.1" y1="565.8" x2="434.7" y2="565.8" stroke="#222" stroke-width="0.9"/>
<line x1="472.8" y1="461.32" x2="472.8" y2="513.39" stroke="#222" stroke-width="0.9"/>
<line x1="471" y1="461.32" x2="474.6" y2="461.32" stroke="#222" stroke-width="0.9"/>
<line x1="471" y1="513.39" x2="474.6" y2="513.39" stroke="#222" stroke-width="0.9"/>
<circle cx="353.10" cy="585.75" r="1.4" fill="#000"/>
<circle cx="393.00" cy="581.87" r="1.4" fill="#000"/>
<circle cx="432.90" cy="562.59" r="1.4" fill="#000"/>
<circle cx="472.80" cy="489.24" r="1.4" fill="#000"/>
<polyline points="353.10,585.75 393.00,583.75 432.90,578.77 472.80,568.13" fill="none" stroke="#000" stroke-width="1.6" stroke-dasharray="5.5 2.5"/>
<line x1="472.8" y1="561.92" x2="472.8" y2="573.78" stroke="#222" stroke-width="0.9"/>
<line x1="471" y1="561.92" x2="474.6" y2="561.92" stroke="#222" stroke-width="0.9"/>
<line x1="471" y1="573.78" x2="474.6" y2="573.78" stroke="#222" stroke-width="0.9"/>
<rect x="351.60" y="584.25" width="3" height="3" fill="#000"/>
<rect x="391.50" y="582.25" width="3" height="3" fill="#000"/>
<rect x="431.40" y="577.27" width="3" height="3" fill="#000"/>
<rect x="471.30" y="566.63" width="3" height="3" fill="#000"/>
<polyline points="353.10,585.75 393.00,581.87 432.90,563.03 472.80,488.24" fill="none" stroke="#000" stroke-width="1.6" stroke-dasharray="2.3 2"/>
<line x1="472.8" y1="475.5" x2="472.8" y2="505.42" stroke="#222" stroke-width="0.9"/>
<line x1="471" y1="475.5" x2="474.6" y2="475.5" stroke="#222" stroke-width="0.9"/>
<line x1="471" y1="505.42" x2="474.6" y2="505.42" stroke="#222" stroke-width="0.9"/>
<circle cx="353.10" cy="585.75" r="1.4" fill="#000"/>
<circle cx="393.00" cy="581.87" r="1.4" fill="#000"/>
<circle cx="432.90" cy="563.03" r="1.4" fill="#000"/>
<circle cx="472.80" cy="488.24" r="1.4" fill="#000"/>
<line x1="50.5" y1="654.5" x2="50.5" y2="787.5" stroke="#222" stroke-width="1.2"/>
<line x1="50" y1="787" x2="250.5" y2="787" stroke="#333" stroke-width="1.3"/>
<line x1="46.5" y1="787" x2="50.5" y2="787" stroke="#333" stroke-width="1"/>
<text x="45.1" y="789.8" font-size="8.1" text-anchor="end" fill="#222" stroke="#222" stroke-width="0.25">0</text>
<line x1="46.5" y1="731.6" x2="50.5" y2="731.6" stroke="#333" stroke-width="1"/>
<text x="45.1" y="734.4" font-size="8.1" text-anchor="end" fill="#222" stroke="#222" stroke-width="0.25">50</text>
<line x1="46.5" y1="676.2" x2="50.5" y2="676.2" stroke="#333" stroke-width="1"/>
<text x="45.1" y="679" font-size="8.1" text-anchor="end" fill="#222" stroke="#222" stroke-width="0.25">100</text>
<line x1="50.5" y1="787" x2="50.5" y2="791" stroke="#333" stroke-width="1"/>
<text x="50.5" y="799.2" font-size="8.1" text-anchor="middle" fill="#222" stroke="#222" stroke-width="0.25">3</text>
<line x1="90.4" y1="787" x2="90.4" y2="791" stroke="#333" stroke-width="1"/>
<text x="90.4" y="799.2" font-size="8.1" text-anchor="middle" fill="#222" stroke="#222" stroke-width="0.25">4</text>
<line x1="130.3" y1="787" x2="130.3" y2="791" stroke="#333" stroke-width="1"/>
<text x="130.3" y="799.2" font-size="8.1" text-anchor="middle" fill="#222" stroke="#222" stroke-width="0.25">5</text>
<line x1="170.2" y1="787" x2="170.2" y2="791" stroke="#333" stroke-width="1"/>
<text x="170.2" y="799.2" font-size="8.1" text-anchor="middle" fill="#222" stroke="#222" stroke-width="0.25">6</text>
<line x1="210.1" y1="787" x2="210.1" y2="791" stroke="#333" stroke-width="1"/>
<text x="210.1" y="799.2" font-size="8.1" text-anchor="middle" fill="#222" stroke="#222" stroke-width="0.25">7</text>
<line x1="250" y1="787" x2="250" y2="791" stroke="#333" stroke-width="1"/>
<text x="250" y="799.2" font-size="8.1" text-anchor="middle" fill="#222" stroke="#222" stroke-width="0.25">8</text>
<text x="150.25" y="813" font-size="8.9" text-anchor="middle" fill="#222" stroke="#222" stroke-width="0.25">Stim</text>
<text x="27.2" y="721.5" font-size="9.2" text-anchor="middle" fill="#222" stroke="#222" stroke-width="0.25" transform="rotate(-90 27.2 721.5)">CTL number (x10^6)</text>
<text x="20.5" y="634.9" font-size="10.5" text-anchor="start" font-weight="bold" fill="#000" stroke="#000" stroke-width="0.12">v</text>
<text x="149.1" y="636.7" font-size="10.2" text-anchor="middle" font-weight="bold" fill="#000" stroke="#000" stroke-width="0.12" textLength="117.8" lengthAdjust="spacingAndGlyphs">CNb_30 Transduced CTL</text>
<polyline points="90.40,786.45 130.30,782.01 170.20,763.07 210.10,698.91" fill="none" stroke="#000" stroke-width="1.6"/>
<line x1="170.2" y1="760.96" x2="170.2" y2="765.39" stroke="#222" stroke-width="0.9"/>
<line x1="168.4" y1="760.96" x2="172" y2="760.96" stroke="#222" stroke-width="0.9"/>
<line x1="168.4" y1="765.39" x2="172" y2="765.39" stroke="#222" stroke-width="0.9"/>
<line x1="210.1" y1="680.63" x2="210.1" y2="717.2" stroke="#222" stroke-width="0.9"/>
<line x1="208.3" y1="680.63" x2="211.9" y2="680.63" stroke="#222" stroke-width="0.9"/>
<line x1="208.3" y1="717.2" x2="211.9" y2="717.2" stroke="#222" stroke-width="0.9"/>
<circle cx="90.40" cy="786.45" r="1.4" fill="#000"/>
<circle cx="130.30" cy="782.01" r="1.4" fill="#000"/>
<circle cx="170.20" cy="763.07" r="1.4" fill="#000"/>
<circle cx="210.10" cy="698.91" r="1.4" fill="#000"/>
<polyline points="90.40,786.45 130.30,782.57 170.20,770.05 210.10,723.84" fill="none" stroke="#000" stroke-width="1.6" stroke-dasharray="5.5 2.5"/>
<line x1="210.1" y1="709.99" x2="210.1" y2="737.14" stroke="#222" stroke-width="0.9"/>
<line x1="208.3" y1="709.99" x2="211.9" y2="709.99" stroke="#222" stroke-width="0.9"/>
<line x1="208.3" y1="737.14" x2="211.9" y2="737.14" stroke="#222" stroke-width="0.9"/>
<rect x="88.90" y="784.95" width="3" height="3" fill="#000"/>
<rect x="128.80" y="781.07" width="3" height="3" fill="#000"/>
<rect x="168.70" y="768.55" width="3" height="3" fill="#000"/>
<rect x="208.60" y="722.34" width="3" height="3" fill="#000"/>
<polyline points="90.40,786.45 130.30,782.01 170.20,763.51 210.10,704.45" fill="none" stroke="#000" stroke-width="1.6" stroke-dasharray="2.3 2"/>
<line x1="210.1" y1="689.16" x2="210.1" y2="716.64" stroke="#222" stroke-width="0.9"/>
<line x1="208.3" y1="689.16" x2="211.9" y2="689.16" stroke="#222" stroke-width="0.9"/>
<line x1="208.3" y1="716.64" x2="211.9" y2="716.64" stroke="#222" stroke-width="0.9"/>
<circle cx="90.40" cy="786.45" r="1.4" fill="#000"/>
<circle cx="130.30" cy="782.01" r="1.4" fill="#000"/>
<circle cx="170.20" cy="763.51" r="1.4" fill="#000"/>
<circle cx="210.10" cy="704.45" r="1.4" fill="#000"/>
<line x1="330" y1="641.9" x2="345.5" y2="641.9" stroke="#000" stroke-width="1.7"/>
<circle cx="338" cy="641.90" r="1.6" fill="#000"/>
<text x="354" y="645.8" font-size="11.6" text-anchor="start" fill="#111" stroke="#111" stroke-width="0.25">No IS</text>
<line x1="330" y1="658.25" x2="345.5" y2="658.25" stroke="#000" stroke-width="1.7" stroke-dasharray="5 2.2 4.5 2"/>
<rect x="336.5" y="656.65" width="3.2" height="3.2" fill="#000"/>
<text x="354" y="661.95" font-size="11.6" text-anchor="start" fill="#111" stroke="#111" stroke-width="0.25">With Tac</text>
<line x1="330" y1="674.6" x2="345.5" y2="674.6" stroke="#000" stroke-width="1.7" stroke-dasharray="2.5 2"/>
<circle cx="338" cy="674.60" r="1.6" fill="#000"/>
<text x="354" y="678.1" font-size="11.6" text-anchor="start" fill="#111" stroke="#111" stroke-width="0.25">With CsA</text>
</svg>
</body></html>
